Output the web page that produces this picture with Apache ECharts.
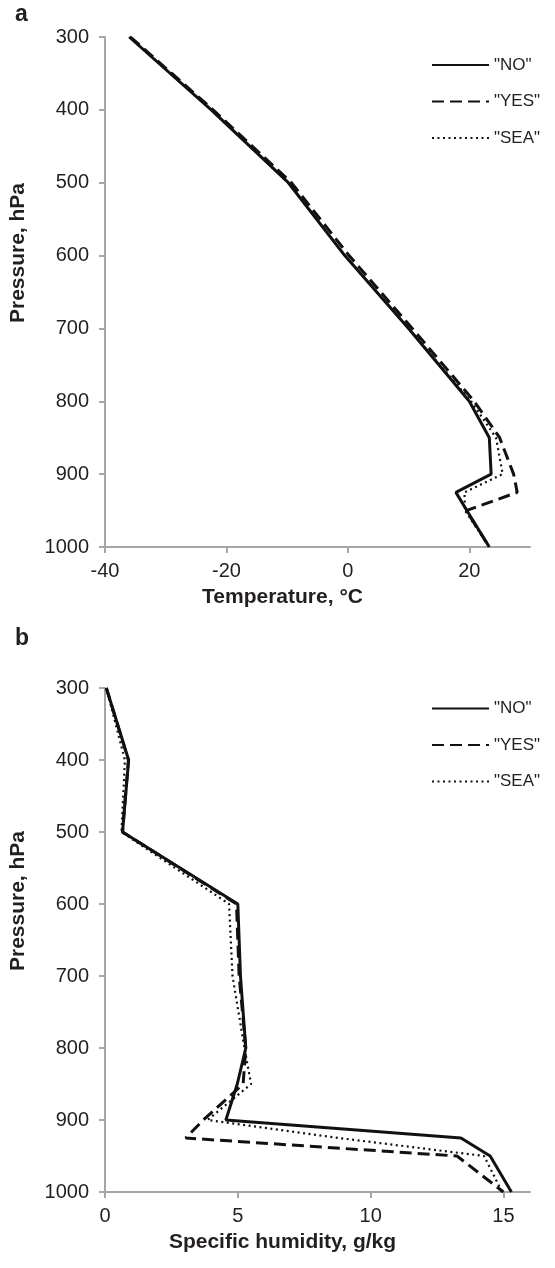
<!DOCTYPE html>
<html>
<head>
<meta charset="utf-8">
<script src="https://cdn.jsdelivr.net/npm/echarts@6/dist/echarts.min.js"></script>
<style>
html,body{margin:0;padding:0;background:#fff;}
#c{width:555px;height:1268px;}
</style>
</head>
<body>
<div id="c"></div>
<script>
// ---- data ----
const pressureLevels = [300, 400, 500, 600, 700, 800, 850, 900, 925, 950, 1000];
const tempNO  = [-36, -22.5, -9.8, -0.5, 10, 20, 23.3, 23.6, 17.8, 19.6, 23.3];
const tempYES = [-35.8, -22.2, -9.3, 0.2, 10.6, 20.8, 25, 27.3, 27.9, 19.5, 23.3];
const tempSEA = [-36, -22.5, -9.8, -0.5, 10, 20.3, 24.4, 25.5, 19.2, 19.3, 23.3];
const humNO  = [0.05, 0.89, 0.66, 5.0, 5.1, 5.3, 4.98, 4.55, 13.4, 14.5, 15.3];
const humYES = [0.05, 0.88, 0.66, 4.95, 5.05, 5.3, 5.2, 3.7, 3.04, 13.25, 15.0];
const humSEA = [0.05, 0.75, 0.62, 4.67, 4.8, 5.25, 5.5, 3.86, 8.8, 14.27, 14.95];
const tempTicks = [-40, -20, 0, 20];
const humTicks = [0, 5, 10, 15];
const pressureTicks = [300, 400, 500, 600, 700, 800, 900, 1000];
const seriesNames = ['"NO"', '"YES"', '"SEA"'];

const FONT = '"Liberation Sans", Arial, Helvetica, sans-serif';
const TXT = '#231f20';
const AX = '#a6a6a6';

function pairs(xs){ return xs.map((v,i)=>[v, pressureLevels[i]]); }

const styles = [
  {type:'solid', width:3},
  {type:[12,6], width:3},
  {type:[2,3.5], width:2.2}
];

function xAxisCfg(idx, min, max, ticks, name){
  return {
    type:'value', gridIndex:idx, min:min, max:max,
    name:name, nameLocation:'middle', nameGap:40,
    nameTextStyle:{fontFamily:FONT, fontSize:21, fontWeight:'bold', color:TXT, padding:[0,70,0,0]},
    axisLine:{show:true, onZero:false, lineStyle:{color:AX, width:2}},
    axisTick:{show:true, customValues:ticks, length:6, lineStyle:{color:AX, width:2}},
    axisLabel:{customValues:ticks, formatter:(v)=>String(v), fontFamily:FONT, fontSize:20, color:TXT, margin:14},
    splitLine:{show:false}
  };
}
function yAxisCfg(idx){
  return {
    type:'value', gridIndex:idx, min:300, max:1000, inverse:true,
    name:'Pressure, hPa', nameLocation:'middle', nameGap:76, nameRotate:90,
    nameTextStyle:{fontFamily:FONT, fontSize:21, fontWeight:'bold', color:TXT, padding:[0,0,0,78]},
    axisLine:{show:true, onZero:false, lineStyle:{color:AX, width:2}},
    axisTick:{show:true, customValues:pressureTicks, length:6, lineStyle:{color:AX, width:2}},
    axisLabel:{customValues:pressureTicks, formatter:(v)=>String(v), fontFamily:FONT, fontSize:20, color:TXT, margin:16},
    splitLine:{show:false}
  };
}

const tempSets = [tempNO, tempYES, tempSEA];
const humSets = [humNO, humYES, humSEA];
const series = [];
tempSets.forEach((d,i)=>series.push({
  name:seriesNames[i], type:'line', xAxisIndex:0, yAxisIndex:0,
  data:pairs(d), showSymbol:false, symbol:'none', smooth:false,
  lineStyle:{color:'#111', type:styles[i].type, width:styles[i].width}, itemStyle:{color:'#111'},
  animation:false
}));
humSets.forEach((d,i)=>series.push({
  name:seriesNames[i], type:'line', xAxisIndex:1, yAxisIndex:1,
  data:pairs(d), showSymbol:false, symbol:'none', smooth:false,
  lineStyle:{color:'#111', type:styles[i].type, width:styles[i].width}, itemStyle:{color:'#111'},
  animation:false
}));

function legendCfg(top){
  return {
    orient:'vertical', left:431, top:top, itemWidth:57, itemHeight:17, itemGap:19.5,
    itemStyle:{opacity:0, color:'rgba(0,0,0,0)', borderWidth:0},
    textStyle:{fontFamily:FONT, fontSize:17, lineHeight:17, color:TXT},
    data:seriesNames, selectedMode:false, padding:0
  };
}

const chart = echarts.init(document.getElementById('c'), null, {renderer:'canvas'});
chart.setOption({
  backgroundColor:'#fff',
  animation:false,
  title:[
    {text:'a', left:10, top:-2, textStyle:{fontFamily:FONT, fontSize:23, fontWeight:'bold', color:TXT}},
    {text:'b', left:10, top:622, textStyle:{fontFamily:FONT, fontSize:23, fontWeight:'bold', color:TXT}}
  ],
  grid:[
    {left:105, top:37, width:425, height:510},
    {left:105, top:688, width:425, height:504}
  ],
  xAxis:[
    xAxisCfg(0, -40, 30, tempTicks, 'Temperature, °C'),
    xAxisCfg(1, 0, 16, humTicks, 'Specific humidity, g/kg')
  ],
  yAxis:[yAxisCfg(0), yAxisCfg(1)],
  legend:[legendCfg(56.5), legendCfg(700)],
  series:series
});
</script>
</body>
</html>
